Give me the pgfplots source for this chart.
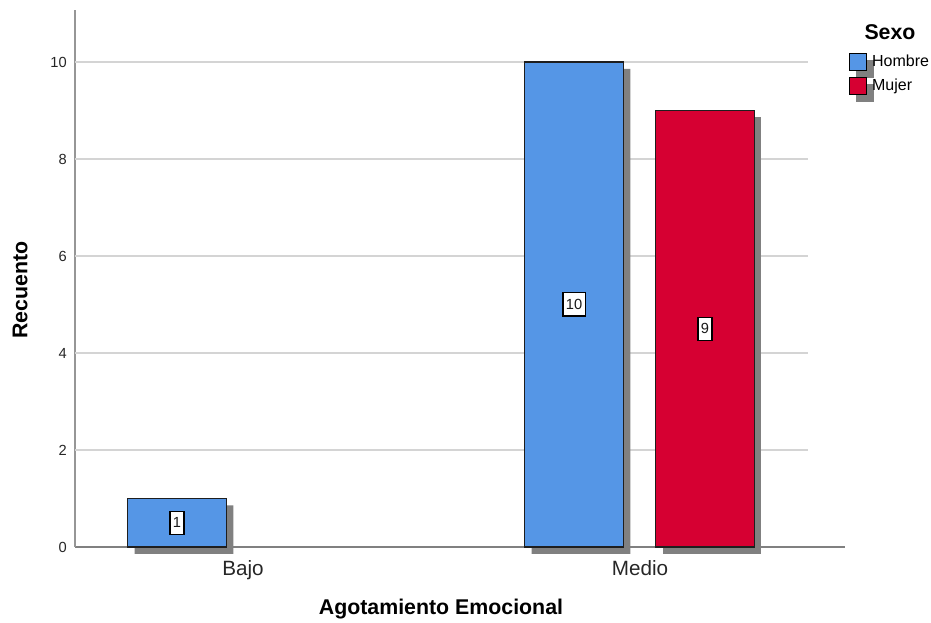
\documentclass[border=0pt]{standalone}
\usepackage{pgfplots}
\pgfplotsset{compat=1.18}
\usepackage{fontspec}
\setmainfont{Liberation Sans}
\definecolor{hblue}{RGB}{85,150,230}
\definecolor{mred}{RGB}{214,0,50}
\definecolor{shadowc}{RGB}{128,128,128}
\definecolor{gridc}{RGB}{212,212,212}
\definecolor{axisx}{RGB}{128,128,128}
\definecolor{axisy}{RGB}{150,150,150}
\definecolor{barb}{RGB}{30,30,30}
\begin{document}
\begin{tikzpicture}
\path[use as bounding box] (-56.25pt,-57pt) rectangle (642pt,410.25pt);
\begin{axis}[
  at={(0pt,0pt)}, anchor=south west,
  scale only axis, width=577.5pt, height=402.75pt,
  xmin=-0.423, xmax=1.5165, ymin=0, ymax=11.072,
  axis x line=bottom, axis y line=left,
  x axis line style={-, draw=axisx, line width=1.1pt},
  y axis line style={-, draw=axisy, line width=1.4pt},
  xtick={0,1}, xticklabels={Bajo,Medio},
  ytick={0,2,4,6,8,10},
  major tick length=0pt,
  /pgf/number format/assume math mode=true,
  xticklabel style={font=\fontsize{15.5}{18}\selectfont, text=black!85, anchor=north, inner sep=0pt, yshift=-10.3pt},
  yticklabel style={font=\fontsize{11}{12}\selectfont, text=black!85, anchor=east, inner sep=0pt, xshift=-6pt},
  xlabel={Agotamiento Emocional}, ylabel={Recuento},
  xlabel style={font=\bfseries\fontsize{16}{19}\selectfont, at={(axis description cs:0.4753,-0.1155)}, anchor=center},
  ylabel style={font=\bfseries\fontsize{16}{19}\selectfont, at={(axis description cs:-0.0714,0.4786)}, anchor=center},
  clip=false,
  legend cell align=left,
  legend style={at={(1.0052,0.9199)}, anchor=north west, draw=none, fill=none, inner sep=0pt, row sep=4.1pt,
    font=\fontsize{12}{14}\selectfont,
    nodes={inner sep=0pt, text height=8.8pt, text depth=2.5pt},
    /tikz/every odd column/.append style={column sep=3.5pt}},
  legend image code/.code={
    \fill[overlay, shadowc] (5.25pt,-11.625pt) rectangle (18pt,1.125pt);
    \draw[#1] (0pt,-6.375pt) rectangle (12.75pt,6.375pt);
  },
]
% grid lines
\addplot[draw=gridc, line width=1.1pt, forget plot] coordinates {(-0.423,2) (1.423,2)};
\addplot[draw=gridc, line width=1.1pt, forget plot] coordinates {(-0.423,4) (1.423,4)};
\addplot[draw=gridc, line width=1.1pt, forget plot] coordinates {(-0.423,6) (1.423,6)};
\addplot[draw=gridc, line width=1.1pt, forget plot] coordinates {(-0.423,8) (1.423,8)};
\addplot[draw=gridc, line width=1.1pt, forget plot] coordinates {(-0.423,10) (1.423,10)};
% shadows
\addplot[ybar, bar width=0.249, bar shift=-0.1484, fill=shadowc, draw=none, yshift=-5.25pt, forget plot]
  coordinates {(0,1) (1,10)};
\addplot[ybar, bar width=0.249, bar shift=0.1816, fill=shadowc, draw=none, yshift=-5.25pt, forget plot]
  coordinates {(1,9)};
% bars
\addplot[ybar, bar width=0.249, bar shift=-0.166, fill=hblue, draw=barb, line width=1pt, forget plot]
  coordinates {(0,1) (1,10)};
\addplot[ybar, bar width=0.249, bar shift=0.164, fill=mred, draw=barb, line width=1pt, forget plot]
  coordinates {(1,9)};
% value labels
\addplot[only marks, mark=none, forget plot, nodes near coords, point meta=explicit symbolic,
  nodes near coords style={draw=black, fill=white, line width=0.9pt, inner xsep=2.2pt, inner ysep=4.8pt, anchor=center,
    font=\fontsize{11}{12}\selectfont, text=black!90}]
  coordinates {(-0.166,0.5) [1] (0.834,5) [10] (1.164,4.5) [9]};
\addlegendimage{fill=hblue, draw=black, line width=0.9pt}
\addlegendentry{Hombre}
\addlegendimage{fill=mred, draw=black, line width=0.9pt}
\addlegendentry{Mujer}
\end{axis}
\node[font=\bfseries\fontsize{16}{19}\selectfont] at (611.25pt,386.25pt) {Sexo};
\end{tikzpicture}
\end{document}
